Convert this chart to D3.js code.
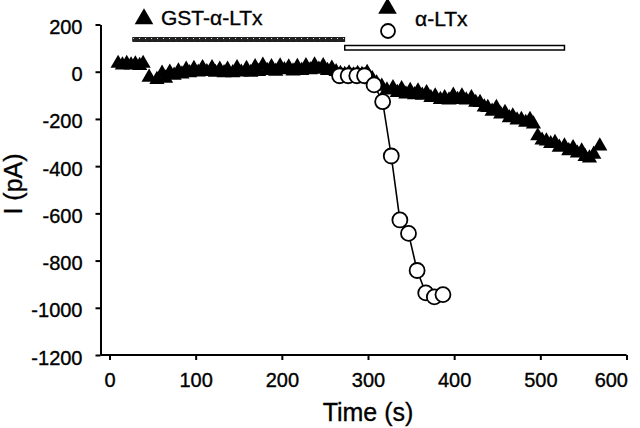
<!DOCTYPE html>
<html><head><meta charset="utf-8">
<script src="https://cdn.jsdelivr.net/npm/d3@7"></script>
<style>
body{margin:0;background:#fff}
svg{display:block}
text{font-family:"Liberation Sans",Arial,Helvetica,sans-serif;fill:#000;stroke:#000;stroke-width:0.35px}
</style>
</head><body>
<svg id="c" width="640" height="428"></svg>
<script>
// ---- data ----
const triTime = [10,15,20,25,30,35,39,46,55,61,65,70,75,80,84,89,93,98,103,108,113,119,123,128,133,137,143,148,153,159,164,169,173,178,183,188,193,198,203,208,213,218,223,228,233,238,243,248,253,258,263,268,273,278,283,288,293,299,305,310,316,322,329,334,339,344,349,354,358,363,368,373,378,384,389,394,399,404,409,414,420,425,430,435,439,444,449,454,459,464,468,473,478,483,488,492,497,502,507,512,517,522,528,533,538,543,548,552,557,562,569];
const triCurrent = [35,28,35,28,33,26,35,-24,-33,-7,-28,-2,-15,3,-10,10,-5,13,-2,17,0,17,-3,10,-5,10,-5,17,-2,13,-3,21,0,27,5,21,2,24,8,20,3,22,5,25,8,28,10,25,5,15,0,-8,-12,-6,-14,-8,-12,-3,-30,-48,-62,-78,-68,-88,-72,-95,-80,-98,-82,-100,-89,-110,-103,-118,-110,-120,-100,-118,-103,-120,-110,-130,-131,-150,-152,-168,-152,-180,-173,-195,-188,-205,-202,-215,-202,-222,-272,-290,-294,-305,-300,-320,-315,-335,-322,-345,-336,-360,-366,-350,-315];
const circTime = [267,277,287,296,307,317,327,337,347,357,367,377,387];
const circCurrent = [-17,-17,-17,-17,-56,-127,-357,-628,-685,-842,-937,-954,-944];
const xTicks = [0,100,200,300,400,500,600];
const yTicks = [200,0,-200,-400,-600,-800,-1000,-1200];
const xTitle = "Time (s)";
const yTitle = "I (pA)";
const legendLabels = ["GST-\u03B1-LTx", "\u03B1-LTx"];
const gstPeriod = [27, 273];
const ltxPeriod = [273, 528];

// ---- scales ----
const svg = d3.select("#c");
const x = d3.scaleLinear().domain([0, 600]).range([109.5, 626.5]);
const y = d3.scaleLinear().domain([-1200, 200]).range([355, 24.5]);
const axisX0 = 100.5;

// ---- axes ----
const fmt = d => String(d);
const gx = svg.append("g").attr("transform", `translate(0,${y(-1200)})`)
  .call(d3.axisBottom(x).tickValues(xTicks).tickSize(5).tickSizeOuter(0).tickPadding(13).tickFormat(fmt));
gx.select(".domain").attr("d", `M${axisX0},0H${x(600)}`);
const gy = svg.append("g").attr("transform", `translate(${axisX0},0)`)
  .call(d3.axisLeft(y).tickValues(yTicks).tickSize(5).tickSizeOuter(0).tickPadding(13).tickFormat(fmt));
[gx, gy].forEach(g => {
  g.select(".domain").attr("stroke", "#000").attr("stroke-width", 2);
  g.selectAll(".tick line").attr("stroke", "#000").attr("stroke-width", 2);
  g.selectAll(".tick text").attr("font-size", 20).attr("font-family", "Liberation Sans, Arial, sans-serif").attr("fill", "#000");
});
gy.selectAll(".tick text").attr("dy", "0.45em");
gx.selectAll(".tick text").filter(d => d === 600).attr("text-anchor", "end").attr("x", 1);

// titles
svg.append("text").attr("x", x(300)).attr("y", 421).attr("text-anchor", "middle")
  .attr("font-size", 25).text(xTitle);
svg.append("text").attr("transform", "translate(22,184) rotate(-90)").attr("text-anchor", "middle")
  .attr("font-size", 25).text(yTitle);

// ---- triangles ----
const tri = d3.symbol().type(d3.symbolTriangle).size(100);
svg.append("g").selectAll("path").data(triTime.map((t, i) => [t, triCurrent[i]]))
  .join("path").attr("d", tri).attr("fill", "#000")
  .attr("transform", d => `translate(${x(d[0])},${y(d[1])})`);

// ---- circles with line ----
const circData = circTime.map((t, i) => [t, circCurrent[i]]);
svg.append("path").datum(circData).attr("fill", "none").attr("stroke", "#000").attr("stroke-width", 1.6)
  .attr("d", d3.line().x(d => x(d[0])).y(d => y(d[1])));
svg.append("g").selectAll("circle").data(circData).join("circle")
  .attr("cx", d => x(d[0])).attr("cy", d => y(d[1])).attr("r", 7.5)
  .attr("fill", "#fff").attr("stroke", "#000").attr("stroke-width", 1.8);

// ---- legend / application bars ----
const defs = svg.append("defs");
const pat = defs.append("pattern").attr("id", "hatch").attr("patternUnits", "userSpaceOnUse")
  .attr("width", 6).attr("height", 4);
pat.append("rect").attr("width", 6).attr("height", 4).attr("fill", "#222");
pat.append("path").attr("d", "M1,3L3,1").attr("stroke", "#ddd").attr("stroke-width", 1);

svg.append("rect").attr("x", x(gstPeriod[0])).attr("y", 37.5)
  .attr("width", x(gstPeriod[1]) - x(gstPeriod[0])).attr("height", 4)
  .attr("fill", "url(#hatch)").attr("stroke", "#000").attr("stroke-width", 0.8);
svg.append("rect").attr("x", x(ltxPeriod[0])).attr("y", 45.5)
  .attr("width", x(ltxPeriod[1]) - x(ltxPeriod[0])).attr("height", 4.5)
  .attr("fill", "#fff").attr("stroke", "#000").attr("stroke-width", 1.5);

const legTri = d3.symbol().type(d3.symbolTriangle).size(150);
svg.append("path").attr("d", legTri).attr("fill", "#000").attr("transform", "translate(144,19)");
svg.append("text").attr("x", 161).attr("y", 25).attr("font-size", 21).text(legendLabels[0]);
svg.append("path").attr("d", legTri).attr("fill", "#000").attr("transform", "translate(387.5,8.5)");
svg.append("circle").attr("cx", 388).attr("cy", 31).attr("r", 7).attr("fill", "#fff")
  .attr("stroke", "#000").attr("stroke-width", 1.8);
svg.append("text").attr("x", 415).attr("y", 26).attr("font-size", 21).text(legendLabels[1]);
</script>
</body></html>
